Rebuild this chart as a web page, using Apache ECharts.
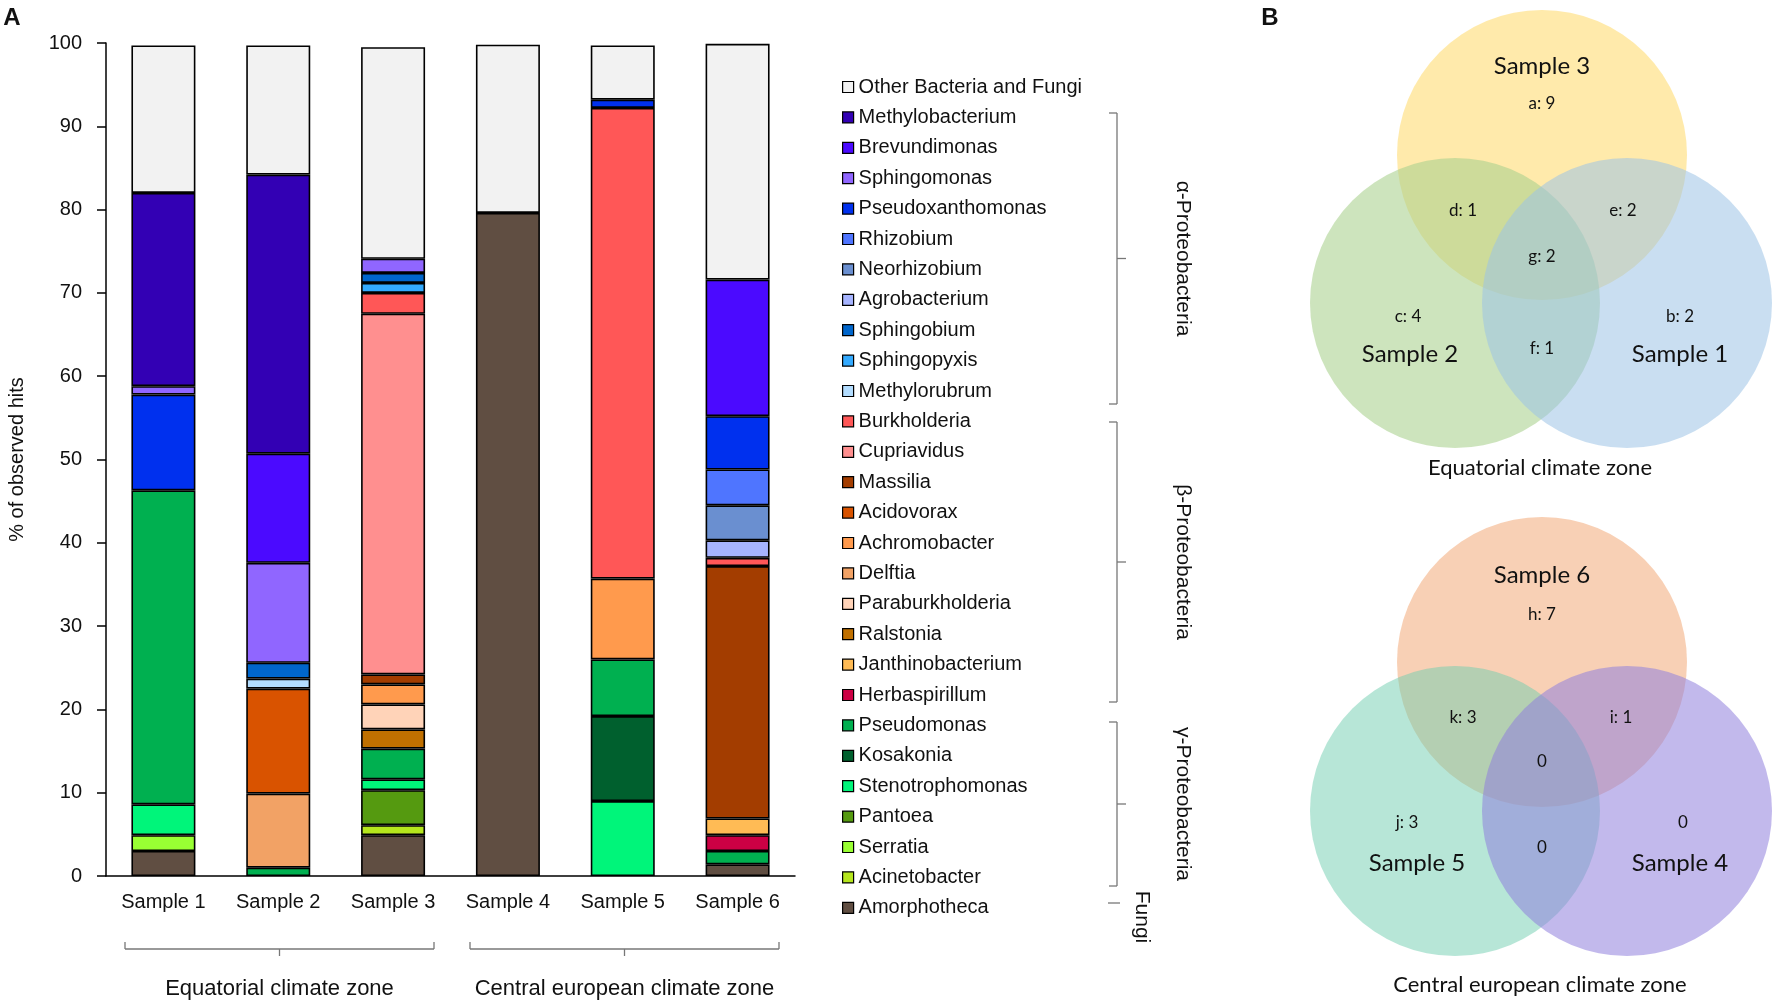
<!DOCTYPE html>
<html>
<head>
<meta charset="utf-8">
<script src="https://cdn.jsdelivr.net/npm/echarts@6/dist/echarts.min.js"></script>
<style>
html,body{margin:0;padding:0;background:#fff;}
#chart{width:1772px;height:1008px;}
</style>
</head>
<body>
<div id="chart"></div>
<script>
// ---------------- DATA ----------------
const categories = ['Sample 1', 'Sample 2', 'Sample 3', 'Sample 4', 'Sample 5', 'Sample 6'];
const yMin = 0, yMax = 100, yInterval = 10;

// % of observed hits per genus (Sample 1..6); null = absent
const amorphotheca      = [3.0, null, 4.9, 79.6, null, 1.4];
const acinetobacter     = [null, null, 1.2, null, null, null];
const serratia          = [1.9, null, null, null, null, null];
const pantoea           = [null, null, 4.2, null, null, null];
const stenotrophomonas  = [3.7, null, 1.3, null, 9.0, null];
const kosakonia         = [null, null, null, null, 10.2, null];
const pseudomonas       = [37.7, 1.0, 3.7, null, 6.8, 1.6];
const herbaspirillum    = [null, null, null, null, null, 1.9];
const janthinobacterium = [null, null, null, null, null, 2.0];
const ralstonia         = [null, null, 2.3, null, null, null];
const paraburkholderia  = [null, null, 3.0, null, null, null];
const delftia           = [null, 8.9, null, null, null, null];
const achromobacter     = [null, null, 2.4, null, 9.7, null];
const acidovorax        = [null, 12.6, null, null, null, null];
const massilia          = [null, null, 1.2, null, null, 30.3];
const cupriavidus       = [null, null, 43.3, null, null, null];
const burkholderia      = [null, null, 2.5, null, 56.5, 1.0];
const methylorubrum     = [null, 1.2, null, null, null, null];
const sphingopyxis      = [null, null, 1.2, null, null, null];
const sphingobium       = [null, 1.9, 1.2, null, null, null];
const agrobacterium     = [null, null, null, null, null, 2.1];
const neorhizobium      = [null, null, null, null, null, 4.2];
const rhizobium         = [null, null, null, null, null, 4.3];
const pseudoxanthomonas = [11.5, null, null, null, 1.0, 6.4];
const sphingomonas      = [1.0, 12.0, 1.7, null, null, null];
const brevundimonas     = [null, 13.1, null, null, null, 16.4];
const methylobacterium  = [23.2, 33.5, null, null, null, null];
const otherBacteriaFungi = [17.7, 15.5, 25.4, 20.2, 6.5, 28.3];

// stacking order, bottom to top
const genusNames = ['Amorphotheca','Acinetobacter','Serratia','Pantoea','Stenotrophomonas','Kosakonia',
  'Pseudomonas','Herbaspirillum','Janthinobacterium','Ralstonia','Paraburkholderia','Delftia',
  'Achromobacter','Acidovorax','Massilia','Cupriavidus','Burkholderia','Methylorubrum','Sphingopyxis',
  'Sphingobium','Agrobacterium','Neorhizobium','Rhizobium','Pseudoxanthomonas','Sphingomonas',
  'Brevundimonas','Methylobacterium','Other Bacteria and Fungi'];
const genusValues = [amorphotheca, acinetobacter, serratia, pantoea, stenotrophomonas, kosakonia,
  pseudomonas, herbaspirillum, janthinobacterium, ralstonia, paraburkholderia, delftia,
  achromobacter, acidovorax, massilia, cupriavidus, burkholderia, methylorubrum, sphingopyxis,
  sphingobium, agrobacterium, neorhizobium, rhizobium, pseudoxanthomonas, sphingomonas,
  brevundimonas, methylobacterium, otherBacteriaFungi];
const genusColors = ['#604E42','#B5E61D','#99FF33','#559A10','#00F57A','#00602E',
  '#00B050','#CC0044','#FFBB55','#C07000','#FFD3B8','#F2A265',
  '#FF9A4D','#D95300','#A33D00','#FF8F8F','#FF5757','#B3DDFF','#33AAFF',
  '#0066CC','#A6B4FF','#6A8FD0','#4F75FF','#0030EE','#9066FF',
  '#4B0AFF','#3300B4','#F2F2F2'];

// taxonomic groups (legend brackets)
const groupNames = ['α-Proteobacteria', 'β-Proteobacteria', 'γ-Proteobacteria', 'Fungi'];

// Venn diagrams
const vennEqSets = ['Sample 3', 'Sample 2', 'Sample 1'];
const vennEqKeys = ['a', 'b', 'c', 'd', 'e', 'f', 'g'];
const vennEqCounts = [9, 2, 4, 1, 2, 1, 2];
const vennEqTitle = 'Equatorial climate zone';
const vennCeSets = ['Sample 6', 'Sample 5', 'Sample 4'];
const vennCeKeys = ['h', 'i', 'j', 'k'];
const vennCeCounts = [7, 1, 3, 3];
const vennCeOther = [0, 0, 0]; // center, sample4-only, sample4∩5
const vennCeTitle = 'Central european climate zone';
const zoneNames = ['Equatorial climate zone', 'Central european climate zone'];

// ---------------- CHART ----------------
const chart = echarts.init(document.getElementById('chart'));
const FONT = '"Liberation Sans", Arial, sans-serif';
const VFONT = 'Lato, "Open Sans", sans-serif';

const series = genusNames.map((n, i) => ({
  name: n,
  type: 'bar',
  stack: 'total',
  barWidth: 64,
  data: genusValues[i],
  itemStyle: { color: genusColors[i], borderColor: '#000', borderWidth: 1.6 },
  emphasis: { disabled: true },
  animation: false
}));

function line(x1, y1, x2, y2, c, w) {
  return { type: 'line', shape: { x1, y1, x2, y2 }, style: { stroke: c || '#777', lineWidth: w || 1.3 }, silent: true };
}
function txt(x, y, t, size, opts) {
  opts = opts || {};
  return {
    type: 'text', x, y, rotation: opts.rot || 0, silent: true,
    style: {
      text: t, fill: opts.color || '#111',
      font: (opts.weight || 'normal') + ' ' + size + 'px ' + (opts.family || FONT),
      textAlign: opts.align || 'center', align: opts.align || 'center',
      textVerticalAlign: 'middle', verticalAlign: 'middle'
    }
  };
}
function circle(cx, cy, r, color, op) {
  return { type: 'circle', shape: { cx, cy, r }, style: { fill: color, opacity: op, stroke: 'none' }, silent: true };
}

const g = [];
// panel letters
g.push(txt(12, 18, 'A', 24, { weight: 'bold' }));
g.push(txt(1270, 18, 'B', 24, { weight: 'bold' }));

// x brackets
function xBracket(x1, x2, y, label) {
  const mid = (x1 + x2) / 2;
  g.push(line(x1, y, x2, y));
  g.push(line(x1, y, x1, y - 7));
  g.push(line(x2, y, x2, y - 7));
  g.push(line(mid, y, mid, y + 7));
  g.push(txt(mid, 989, label, 22));
}
xBracket(125, 434, 949, zoneNames[0]);
xBracket(470, 779, 949, zoneNames[1]);

// legend group brackets
function yBracket(y1, y2, label) {
  const x = 1117, mid = (y1 + y2) / 2;
  g.push(line(x, y1, x, y2));
  g.push(line(x - 8, y1, x, y1));
  g.push(line(x - 8, y2, x, y2));
  g.push(line(x, mid, x + 9, mid));
  g.push(txt(1183, mid, label, 21, { rot: -Math.PI / 2 }));
}
yBracket(113, 404, groupNames[0]);
yBracket(422, 702, groupNames[1]);
yBracket(722, 886, groupNames[2]);
g.push(line(1108, 903, 1120, 903));
g.push(txt(1142, 917, groupNames[3], 21, { rot: -Math.PI / 2 }));

// Venn equatorial
g.push(circle(1542, 155, 145, '#FFD966', 0.55));
g.push(circle(1455, 303, 145, '#A9D18E', 0.58));
g.push(circle(1627, 303, 145, '#9DC3E6', 0.55));
const eqPos = { a: [1542, 104], b: [1680, 317], c: [1408, 317], d: [1463, 211], e: [1623, 211], f: [1542, 349], g: [1542, 257] };
vennEqKeys.forEach((k, i) => g.push(txt(eqPos[k][0], eqPos[k][1], k + ': ' + vennEqCounts[i], 17, { family: VFONT })));
g.push(txt(1542, 66, vennEqSets[0], 24, { family: VFONT }));
g.push(txt(1410, 354, vennEqSets[1], 24, { family: VFONT }));
g.push(txt(1680, 354, vennEqSets[2], 24, { family: VFONT }));
g.push(txt(1540, 468, vennEqTitle, 22, { family: VFONT }));

// Venn central european
g.push(circle(1542, 662, 145, '#F4B183', 0.6));
g.push(circle(1455, 811, 145, '#6FCDB0', 0.5));
g.push(circle(1627, 811, 145, '#8F80DC', 0.55));
const cePos = { h: [1542, 615], i: [1621, 718], j: [1407, 823], k: [1463, 718] };
vennCeKeys.forEach((k, i) => g.push(txt(cePos[k][0], cePos[k][1], k + ': ' + vennCeCounts[i], 17, { family: VFONT })));
const ceOtherPos = [[1542, 762], [1683, 823], [1542, 848]];
vennCeOther.forEach((v, i) => g.push(txt(ceOtherPos[i][0], ceOtherPos[i][1], String(v), 17, { family: VFONT })));
g.push(txt(1542, 575, vennCeSets[0], 24, { family: VFONT }));
g.push(txt(1417, 863, vennCeSets[1], 24, { family: VFONT }));
g.push(txt(1680, 863, vennCeSets[2], 24, { family: VFONT }));
g.push(txt(1540, 985, vennCeTitle, 22, { family: VFONT }));

chart.setOption({
  animation: false,
  backgroundColor: '#fff',
  textStyle: { fontFamily: FONT },
  grid: { left: 106, top: 43, width: 689, height: 833, containLabel: false },
  xAxis: {
    type: 'category',
    data: categories,
    axisLine: { lineStyle: { color: '#000', width: 1.5 } },
    axisTick: { show: false },
    axisLabel: { fontSize: 20, color: '#111', margin: 16, fontFamily: FONT }
  },
  yAxis: {
    type: 'value', min: yMin, max: yMax, interval: yInterval,
    name: '% of observed hits', nameLocation: 'middle', nameGap: 79,
    nameTextStyle: { fontSize: 20, color: '#111', fontFamily: FONT },
    axisLine: { show: true, lineStyle: { color: '#000', width: 1.5 } },
    axisTick: { show: true, inside: false, length: 9, lineStyle: { color: '#000', width: 1.5 } },
    axisLabel: { fontSize: 20, color: '#111', margin: 24, fontFamily: FONT },
    splitLine: { show: false }
  },
  legend: {
    orient: 'vertical',
    left: 837, top: 72,
    data: genusNames.slice().reverse(),
    itemWidth: 11, itemHeight: 11, itemGap: 10.4,
    icon: 'rect',
    selectedMode: false,
    itemStyle: { borderColor: '#000', borderWidth: 1.2 },
    textStyle: { fontSize: 20, color: '#111', lineHeight: 20, fontFamily: FONT, padding: [0, 0, 0, 0] }
  },
  series: series,
  graphic: g
});
</script>
</body>
</html>
